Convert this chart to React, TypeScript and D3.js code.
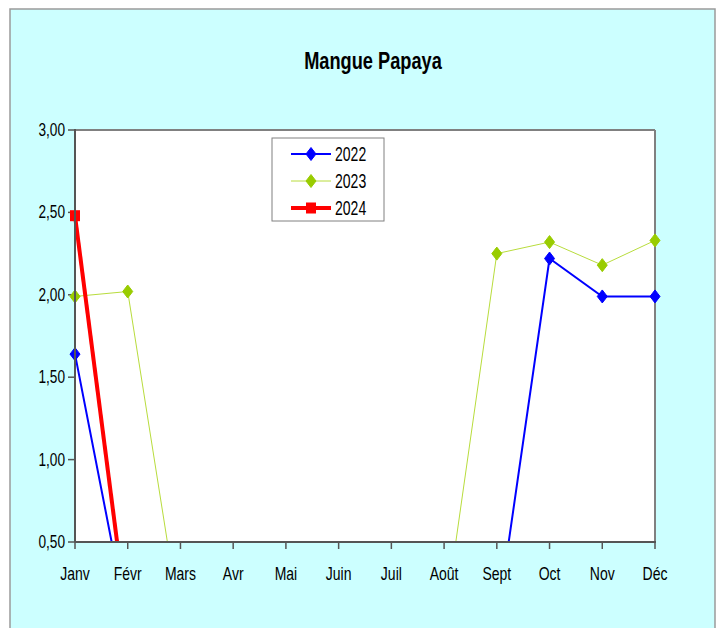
import React from "react";
import * as d3 from "d3";

const months = ["Janv", "Févr", "Mars", "Avr", "Mai", "Juin", "Juil", "Août", "Sept", "Oct", "Nov", "Déc"];
const s2022: (number | null)[] = [1.64, 0, 0, 0, 0, 0, 0, 0, 0, 2.22, 1.99, 1.99];
const s2023: (number | null)[] = [1.99, 2.02, 0, 0, 0, 0, 0, 0, 2.25, 2.32, 2.18, 2.33];
const s2024: (number | null)[] = [2.48, 0, null, null, null, null, null, null, null, null, null, null];
const yTicks = [0.5, 1.0, 1.5, 2.0, 2.5, 3.0];
const seriesNames = ["2022", "2023", "2024"];

const FONT = "'Liberation Sans', Arial, sans-serif";

function CText(props: {
  x: number;
  y: number;
  sx: number;
  size: number;
  anchor?: string;
  bold?: boolean;
  children: React.ReactNode;
}) {
  return (
    <text
      transform={`translate(${props.x},${props.y}) scale(${props.sx},1)`}
      textAnchor={props.anchor || "start"}
      fontFamily={FONT}
      fontWeight={props.bold ? "bold" : "normal"}
      fontSize={props.size}
      fill="#000"
    >
      {props.children}
    </text>
  );
}

export default function App() {
  const W = 726, H = 628;
  const left = 75, right = 655, top = 130, bottom = 542;
  const x = d3.scalePoint<string>().domain(months).range([left, right]);
  const y = d3.scaleLinear().domain([0.5, 3.0]).range([bottom, top]);

  const series = [
    { name: seriesNames[0], data: s2022, color: "#0000FF", width: 2, marker: "diamond", mcolor: "#0000FF" },
    { name: seriesNames[1], data: s2023, color: "#B8DC3C", width: 1, marker: "diamond", mcolor: "#99CC00" },
    { name: seriesNames[2], data: s2024, color: "#FF0000", width: 4, marker: "square", mcolor: "#FF0000" },
  ];

  const line = d3
    .line<number | null>()
    .defined((d) => d !== null)
    .x((_, i) => x(months[i]) as number)
    .y((d) => y(d as number));

  const marker = (type: string, cx: number, cy: number, color: string, key: string) => {
    if (type === "diamond") {
      const p = `M${cx},${cy - 6.5} L${cx + 5},${cy} L${cx},${cy + 6.5} L${cx - 5},${cy} Z`;
      return <path key={key} d={p} fill={color} stroke={color} strokeWidth={1} />;
    }
    return <rect key={key} x={cx - 5} y={cy - 5.5} width={10} height={11} fill={color} />;
  };

  return (
    <svg width={W} height={H} style={{ position: "absolute", left: 0, top: 0 }}>
      <defs>
        <clipPath id="lineclip">
          <rect x={left - 8} y={top - 8} width={right - left + 16} height={bottom - top + 8} />
        </clipPath>
      </defs>
      <rect x={10} y={9} width={705} height={640} fill="#CCFFFF" stroke="#9a9a9a" strokeWidth={1.5} />
      <CText x={373} y={69} sx={0.76} size={24} anchor="middle" bold>
        Mangue Papaya
      </CText>
      <rect x={left} y={top} width={right - left} height={bottom - top} fill="#FFFFFF" />
      <line x1={left} y1={top} x2={right} y2={top} stroke="#808080" strokeWidth={2} />
      <line x1={right} y1={top} x2={right} y2={bottom} stroke="#808080" strokeWidth={2} />

      {yTicks.map((t) => (
        <g key={t}>
          <line x1={left - 7} x2={left} y1={y(t)} y2={y(t)} stroke="#555" strokeWidth={1.5} />
          <CText x={left - 10} y={y(t) + 6} sx={0.78} size={17.5} anchor="end">
            {d3.format(".2f")(t).replace(".", ",")}
          </CText>
        </g>
      ))}
      {months.map((m) => (
        <g key={m}>
          <line x1={x(m)} x2={x(m)} y1={bottom} y2={bottom + 7} stroke="#555" strokeWidth={1.5} />
          <CText x={x(m) as number} y={580} sx={0.8} size={17.5} anchor="middle">
            {m}
          </CText>
        </g>
      ))}

      <g clipPath="url(#lineclip)">
        {series.map((s) => (
          <path key={s.name} d={line(s.data) || ""} fill="none" stroke={s.color} strokeWidth={s.width} />
        ))}
        {series.map((s) =>
          s.data.map((v, i) =>
            v !== null && v >= 0.5 ? marker(s.marker, x(months[i]) as number, y(v), s.mcolor, s.name + i) : null
          )
        )}
      </g>

      <line x1={left} y1={top - 1} x2={left} y2={bottom} stroke="#555" strokeWidth={2} />
      <line x1={left} y1={bottom} x2={right + 1} y2={bottom} stroke="#555" strokeWidth={2} />

      <rect x={272} y={138} width={112} height={83} fill="#FFFFFF" stroke="#808080" strokeWidth={1} />
      {series.map((s, i) => {
        const ly = 154 + i * 27;
        return (
          <g key={s.name}>
            <line x1={291} x2={331} y1={ly} y2={ly} stroke={s.color} strokeWidth={s.width} />
            {marker(s.marker, 311, ly, s.mcolor, "leg" + i)}
            <CText x={335} y={ly + 7} sx={0.72} size={19.5}>
              {s.name}
            </CText>
          </g>
        );
      })}
    </svg>
  );
}
